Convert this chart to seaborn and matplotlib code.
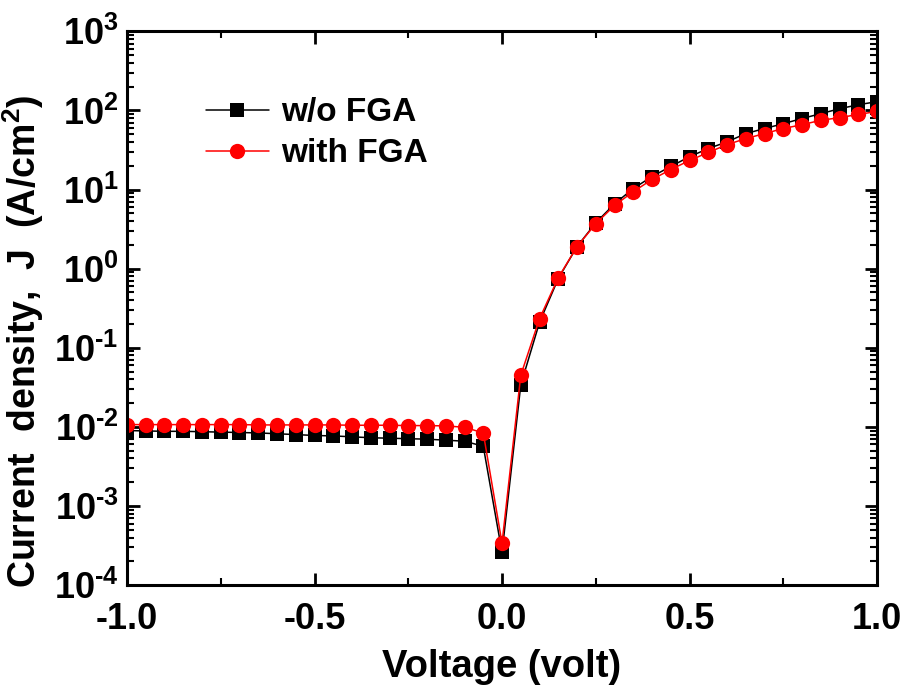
import numpy as np
import pandas as pd
import matplotlib
matplotlib.use("Agg")
import matplotlib.pyplot as plt
import matplotlib.ticker as mticker
import seaborn as sns

# ---- data ----
voltage = [-1.00, -0.95, -0.90, -0.85, -0.80, -0.75, -0.70, -0.65, -0.60, -0.55,
           -0.50, -0.45, -0.40, -0.35, -0.30, -0.25, -0.20, -0.15, -0.10, -0.05,
           0.00, 0.05, 0.10, 0.15, 0.20, 0.25, 0.30, 0.35, 0.40, 0.45,
           0.50, 0.55, 0.60, 0.65, 0.70, 0.75, 0.80, 0.85, 0.90, 0.95, 1.00]

j_wo_fga = [0.0090, 0.0089, 0.0088, 0.0088, 0.0087, 0.0086, 0.0085, 0.0084, 0.0082, 0.0080,
            0.0078, 0.0077, 0.0075, 0.0073, 0.0072, 0.0071, 0.0070, 0.0068, 0.0066, 0.0057,
            2.6e-4, 0.034, 0.21, 0.75, 1.9, 3.8, 6.6, 10.3, 14.6, 19.6,
            26.0, 33.0, 40.0, 51.0, 59.0, 68.0, 79.0, 91.0, 105.0, 118.0, 129.0]

j_with_fga = [0.0107, 0.0107, 0.0107, 0.0107, 0.0107, 0.0107, 0.0107, 0.0106, 0.0106, 0.0106,
              0.0106, 0.0106, 0.0105, 0.0105, 0.0105, 0.0104, 0.0104, 0.0103, 0.0099, 0.0084,
              3.4e-4, 0.045, 0.233, 0.77, 1.9, 3.7, 6.3, 9.4, 13.4, 17.9,
              23.3, 29.4, 37.0, 44.0, 51.0, 59.0, 66.0, 75.0, 81.0, 89.0, 97.0]

series_names = ["w/o FGA", "with FGA"]
x_ticks = [-1.0, -0.5, 0.0, 0.5, 1.0]
x_tick_labels = ["-1.0", "-0.5", "0.0", "0.5", "1.0"]
y_ticks = [1e-4, 1e-3, 1e-2, 1e-1, 1e0, 1e1, 1e2, 1e3]
y_tick_labels = [r"$\mathbf{10^{\text{-}4}}$", r"$\mathbf{10^{\text{-}3}}$", r"$\mathbf{10^{\text{-}2}}$",
                 r"$\mathbf{10^{\text{-}1}}$", r"$\mathbf{10^{0}}$", r"$\mathbf{10^{1}}$",
                 r"$\mathbf{10^{2}}$", r"$\mathbf{10^{3}}$"]

# ---- style ----
sns.set_style("ticks")
plt.rcParams["font.family"] = ["Liberation Sans", "DejaVu Sans"]
plt.rcParams["font.weight"] = "bold"
plt.rcParams["mathtext.fontset"] = "custom"
plt.rcParams["mathtext.rm"] = "Liberation Sans:bold"
plt.rcParams["mathtext.bf"] = "Liberation Sans:bold"
plt.rcParams["mathtext.it"] = "Liberation Sans:bold"
plt.rcParams["text.color"] = "black"
plt.rcParams["axes.labelcolor"] = "black"
plt.rcParams["xtick.color"] = "black"
plt.rcParams["ytick.color"] = "black"
plt.rcParams["axes.edgecolor"] = "black"

fig = plt.figure(figsize=(9.07, 6.95), dpi=100)
ax = fig.add_axes([0.140, 0.158, 0.827, 0.797])

df_wo = pd.DataFrame({"V": voltage, "J": j_wo_fga})
df_w = pd.DataFrame({"V": voltage, "J": j_with_fga})

sns.lineplot(data=df_wo, x="V", y="J", ax=ax, color="black", linewidth=1.1,
             marker="s", markersize=9.5, markeredgecolor="black", markeredgewidth=0,
             label=series_names[0])
sns.lineplot(data=df_w, x="V", y="J", ax=ax, color="#ff0000", linewidth=1.1,
             marker="o", markersize=11, markeredgecolor="#ff0000", markeredgewidth=0,
             label=series_names[1])

ax.set_yscale("log")
ax.set_xlim(-1.0, 1.0)
ax.set_ylim(1e-4, 1e3)

ax.set_xticks(x_ticks)
ax.set_xticklabels(x_tick_labels)
ax.xaxis.set_minor_locator(mticker.MultipleLocator(0.25))
ax.set_yticks(y_ticks)
ax.set_yticklabels(y_tick_labels)
ax.yaxis.set_minor_locator(mticker.LogLocator(base=10, subs=np.arange(2, 10), numticks=20))
ax.yaxis.set_minor_formatter(mticker.NullFormatter())

ax.tick_params(axis="both", which="major", direction="in", length=9, width=2,
               top=True, right=True, labelsize=26, colors="black")
ax.tick_params(axis="x", which="major", pad=12)
ax.tick_params(axis="y", which="major", pad=6)
ax.tick_params(axis="both", which="minor", direction="in", length=5, width=1.5,
               top=True, right=True, colors="black")
for lab in ax.get_xticklabels():
    lab.set_fontweight("bold")

for sp in ax.spines.values():
    sp.set_linewidth(2.2)
    sp.set_visible(True)
    sp.set_color("black")

ax.set_xlabel("Voltage (volt)", fontsize=27.5, fontweight="bold")
ax.xaxis.set_label_coords(0.5, -0.115)
ax.set_ylabel(r"Current  density,  J  (A/cm$^{2}$)", fontsize=27, fontweight="bold")
ax.yaxis.set_label_coords(-0.108, 0.44)

leg = ax.legend(loc="upper left", bbox_to_anchor=(0.065, 0.935), frameon=False,
                handlelength=1.9, handletextpad=0.35, labelspacing=0.3,
                prop={"weight": "bold", "size": 24})

fig.savefig("out.png", dpi=100)
